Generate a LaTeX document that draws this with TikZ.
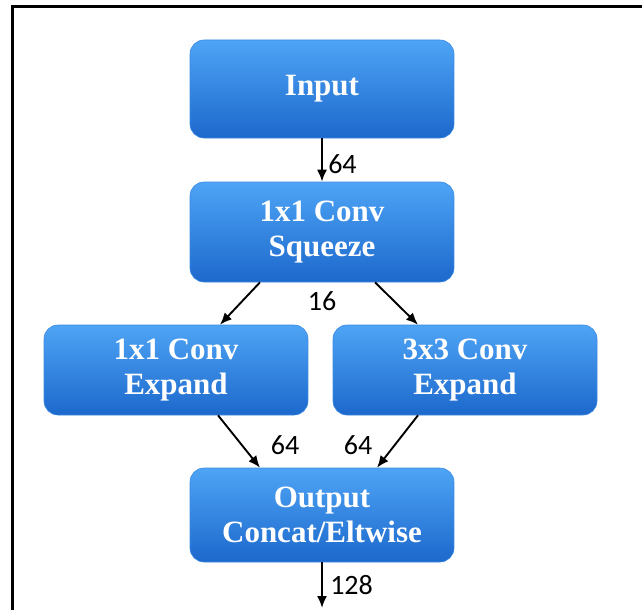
\documentclass[tikz,border=0pt]{standalone}
\usepackage{fontspec}
\setmainfont{Liberation Serif}
\newfontfamily\numfont{Carlito}
\usetikzlibrary{shadings,arrows.meta}

\definecolor{boxtop}{RGB}{78,164,245}
\definecolor{boxbot}{RGB}{28,104,204}
\definecolor{boxline}{RGB}{60,138,226}

\tikzset{
  layer/.style={rectangle, rounded corners=14pt, draw=boxline, line width=0.6pt,
    top color=boxtop, bottom color=boxbot, text=white, align=center,
    font=\fontsize{31}{35}\selectfont\bfseries, minimum width=264pt, inner sep=0pt},
  flow/.style={line width=1.9pt, -{Latex[length=12pt,width=10pt]}},
  num/.style={font=\numfont\fontsize{28}{28}\selectfont}
}

\begin{document}
\begin{tikzpicture}[x=1pt,y=-1pt]
                \useasboundingbox (0,0) rectangle (642,610);
                \draw[line width=3pt] (12,610) -- (12,7) -- (642,7);
                \node[layer, minimum height=98pt] (in) at (322,89) {Input};
                \node[layer, minimum height=100pt] (sq) at (322,232) {1x1 Conv\\Squeeze};
                \node[layer, minimum height=90pt] (ex1) at (176,370) {1x1 Conv\\Expand};
                \node[layer, minimum height=90pt] (ex3) at (465,370) {3x3 Conv\\Expand};
                \node[layer, minimum height=94pt] (out) at (322,515) {Output\\Concat/Eltwise};
                \coordinate (end) at (322,608);
                \draw[flow] (in) -- (sq) node[num, pos=0.6, right=2pt] {64};
                \draw[flow] ([xshift=-62pt]sq.south) -- ([xshift=44pt]ex1.north);
                \draw[flow] ([xshift=53pt]sq.south) -- ([xshift=-47pt]ex3.north);
                \node[num] (sqn) at (322,301) {16};
                \draw[flow] ([xshift=42pt]ex1.south) -- ([xshift=-62pt]out.north);
                \draw[flow] ([xshift=-47pt]ex3.south) -- ([xshift=55pt]out.north);
                \node[num] (exn1) at (285,445) {64};
                \node[num] (exn3) at (358,445) {64};
                \draw[flow] (out) -- (end) node[num, midway, right=4pt] {128};
            \end{tikzpicture}
\end{document}
